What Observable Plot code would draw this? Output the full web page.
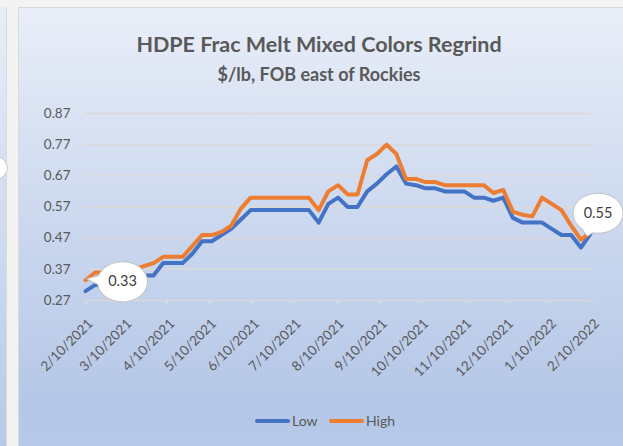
<!DOCTYPE html>
<html>
<head>
<meta charset="utf-8">
<script src="https://cdn.jsdelivr.net/npm/d3@7"></script>
<script src="https://cdn.jsdelivr.net/npm/@observablehq/plot@0.6"></script>
<style>
  html, body { margin: 0; padding: 0; }
  body { width: 623px; height: 446px; overflow: hidden; position: relative; background: #f3f3f3; font-family: Lato, "Open Sans", sans-serif; }
  #leftpanel { position: absolute; left: -120px; top: 7px; width: 126px; height: 470px; background: linear-gradient(180deg, #e8edf7 0%, #b4c7e7 100%); border-right: 1px solid #d9d9d9; }
  #leftbubble { position: absolute; left: -44px; top: 152px; width: 50px; height: 30px; border-radius: 50%; background: #fff; border: 1px solid #c8c8c8; }
  #panel { position: absolute; left: 18px; top: 7px; width: 640px; height: 470px; background: linear-gradient(180deg, #e9eef8 0%, #c9d6ee 50%, #b5c7e7 85%, #b9cbea 100%); border: 1px solid #d6d9de; box-sizing: border-box; }
  #title { position: absolute; left: 18px; width: 602px; top: 31px; text-align: center; font-weight: 700; font-size: 21.5px; line-height: 26px; color: #595959; }
  #subtitle { position: absolute; left: 18px; width: 602px; top: 63px; text-align: center; font-weight: 700; font-size: 18px; line-height: 22px; color: #595959; }
  #chart { position: absolute; left: 0; top: 0; }
  #legend { position: absolute; top: 411px; left: 255px; height: 20px; font-size: 14px; color: #595959; }
  .item { position: absolute; top: 0; white-space: nowrap; line-height: 20px; }
  .swatch { display: inline-block; width: 35px; height: 4px; border-radius: 2px; vertical-align: middle; margin-right: 2px; position: relative; top: -1px; }
</style>
</head>
<body>
<div id="leftpanel"></div>
<div id="leftbubble"></div>
<div id="panel"></div>
<div id="title">HDPE Frac Melt Mixed Colors Regrind</div>
<div id="subtitle">$/lb, FOB east of Rockies</div>
<div id="chart"></div>
<div id="legend"></div>
<script>
// ---- data ----
const dates = [
  "2021-02-10","2021-02-17","2021-02-24","2021-03-03","2021-03-10","2021-03-17","2021-03-24","2021-03-31",
  "2021-04-07","2021-04-14","2021-04-21","2021-04-28","2021-05-05","2021-05-12","2021-05-19","2021-05-26",
  "2021-06-02","2021-06-09","2021-06-16","2021-06-23","2021-06-30","2021-07-07","2021-07-14","2021-07-21",
  "2021-07-28","2021-08-04","2021-08-11","2021-08-18","2021-08-25","2021-09-01","2021-09-08","2021-09-15",
  "2021-09-22","2021-09-29","2021-10-06","2021-10-13","2021-10-20","2021-10-27","2021-11-03","2021-11-10",
  "2021-11-17","2021-11-24","2021-12-01","2021-12-08","2021-12-15","2021-12-22","2021-12-29","2022-01-05",
  "2022-01-12","2022-01-19","2022-01-26","2022-02-02","2022-02-09"
];
const low = [
  0.30, 0.32, 0.32, 0.33, 0.33, 0.34, 0.35, 0.35,
  0.39, 0.39, 0.39, 0.42, 0.46, 0.46, 0.48, 0.50,
  0.53, 0.56, 0.56, 0.56, 0.56, 0.56, 0.56, 0.56,
  0.52, 0.58, 0.60, 0.57, 0.57, 0.62, 0.645, 0.675,
  0.70, 0.645, 0.64, 0.63, 0.63, 0.62, 0.62, 0.62,
  0.60, 0.60, 0.59, 0.60, 0.535, 0.52, 0.52, 0.52,
  0.50, 0.48, 0.48, 0.44, 0.485
];
const high = [
  0.335, 0.36, 0.36, 0.36, 0.37, 0.37, 0.38, 0.39,
  0.41, 0.41, 0.41, 0.445, 0.48, 0.48, 0.49, 0.51,
  0.565, 0.60, 0.60, 0.60, 0.60, 0.60, 0.60, 0.60,
  0.56, 0.62, 0.64, 0.61, 0.61, 0.72, 0.74, 0.77,
  0.74, 0.66, 0.66, 0.65, 0.65, 0.64, 0.64, 0.64,
  0.64, 0.64, 0.615, 0.625, 0.555, 0.545, 0.54, 0.60,
  0.58, 0.56, 0.51, 0.465, 0.49
];
const seriesNames = ["Low", "High"];
const seriesColors = ["#4472C4", "#ED7D31"];
const yTicks = [0.27, 0.37, 0.47, 0.57, 0.67, 0.77, 0.87];
const xTicks = [
  "2021-02-10","2021-03-10","2021-04-10","2021-05-10","2021-06-10","2021-07-10","2021-08-10",
  "2021-09-10","2021-10-10","2021-11-10","2021-12-10","2022-01-10","2022-02-10"
];
const calloutDates = ["2021-02-10", "2022-02-10"];
const calloutValues = [0.33, 0.55];

// ---- build ----
const parse = d3.utcParse("%Y-%m-%d");
const rows = dates.flatMap((d, i) => [
  {date: parse(d), value: low[i], series: seriesNames[0]},
  {date: parse(d), value: high[i], series: seriesNames[1]}
]);
const tickDates = xTicks.map(parse);
const fmt = d => `${d.getUTCMonth() + 1}/${d.getUTCDate()}/${d.getUTCFullYear()}`;
const callouts = calloutDates.map((d, i) => ({date: parse(d), value: calloutValues[i]}));

function callout(rx, ry, tx, ty, half) {
  const a = Math.atan2(ty, tx);
  return {
    draw(ctx) {
      const n = 90;
      const a0 = a + half, a1 = a - half + 2 * Math.PI;
      ctx.moveTo(tx, ty);
      for (let i = 0; i <= n; i++) {
        const t = a0 + (a1 - a0) * i / n;
        ctx.lineTo(rx * Math.cos(t), ry * Math.sin(t));
      }
      ctx.closePath();
    }
  };
}

const fontFamily = "Lato, 'Open Sans', sans-serif";
const chart = Plot.plot({
  width: 623,
  height: 446,
  marginLeft: 85,
  marginRight: 31.5,
  marginTop: 113,
  marginBottom: 146,
  style: {background: "transparent", color: "#595959", fontFamily, overflow: "visible"},
  x: {type: "utc", domain: [parse("2021-02-10"), parse("2022-02-10")]},
  y: {domain: [0.27, 0.87]},
  marks: [
    Plot.ruleY(yTicks, {stroke: "#d9d9d9", strokeWidth: 1.5}),
    Plot.axisX({ticks: tickDates, tickSize: 5, tickFormat: () => "", stroke: "#d9d9d9", strokeWidth: 1.5, label: null}),
    Plot.text(tickDates, {x: d => d, frameAnchor: "bottom", text: fmt, rotate: -45, textAnchor: "end", lineAnchor: "middle",
      dx: 5, dy: 21, fontSize: 13.5, fill: "#595959"}),
    Plot.axisY({ticks: yTicks, tickSize: 0, tickPadding: 15, tickFormat: d3.format(".2f"), fontSize: 13.5, label: null, fill: "#595959"}),
    Plot.line(rows, {x: "date", y: "value", z: "series", stroke: d => seriesColors[seriesNames.indexOf(d.series)],
      strokeWidth: 4, strokeLinejoin: "round", strokeLinecap: "round"}),
    Plot.dot([callouts[0]], {x: "date", y: "value", dx: 37, symbol: callout(25, 20, -36, -3, 0.22), r: 5,
      fill: "white", stroke: "#bfbfbf", strokeWidth: 1}),
    Plot.text([callouts[0]], {x: "date", y: "value", dx: 37, text: d => d3.format(".2f")(d.value), fontSize: 14.5, fill: "#404040"}),
    Plot.dot([callouts[1]], {x: "date", y: "value", dx: 6, symbol: callout(25, 20, -11, 23, 0.25), r: 5,
      fill: "white", stroke: "#bfbfbf", strokeWidth: 1}),
    Plot.text([callouts[1]], {x: "date", y: "value", dx: 6, text: d => d3.format(".2f")(d.value), fontSize: 14.5, fill: "#404040"})
  ]
});
document.getElementById("chart").appendChild(chart);

// legend
const legend = document.getElementById("legend");
const offsets = [0, 74];
seriesNames.forEach((name, i) => {
  const item = document.createElement("div");
  item.className = "item";
  item.style.left = offsets[i] + "px";
  const sw = document.createElement("span");
  sw.className = "swatch";
  sw.style.background = seriesColors[i];
  item.appendChild(sw);
  item.appendChild(document.createTextNode(name));
  legend.appendChild(item);
});
</script>
</body>
</html>
